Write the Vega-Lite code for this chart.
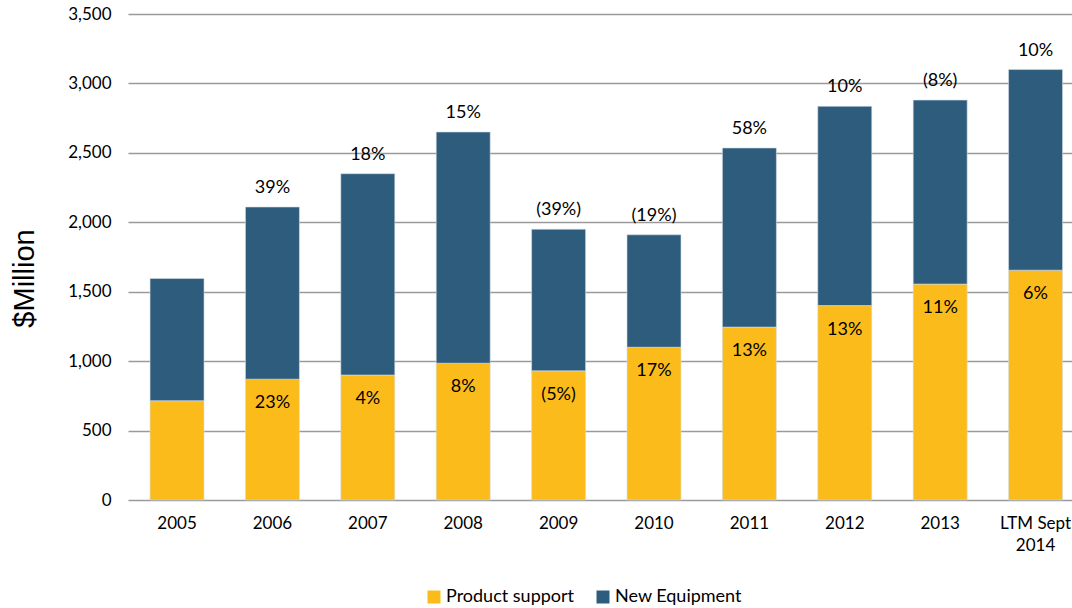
{
  "$schema": "https://vega.github.io/schema/vega-lite/v6.json",
  "width": 944,
  "height": 486,
  "autosize": {"type": "none"},
  "padding": {"left": 128, "top": 14, "right": 0, "bottom": 108},
  "background": "white",
  "config": {
    "view": {"stroke": null},
    "font": "Lato",
    "text": {"font": "Lato"}
  },
  "data": {
    "values": [
      {"year": "2005", "segment": "Product support", "order": 1, "value": 715, "label": ""},
      {"year": "2005", "segment": "New Equipment", "order": 2, "value": 880, "label": ""},
      {"year": "2006", "segment": "Product support", "order": 1, "value": 870, "label": "23%"},
      {"year": "2006", "segment": "New Equipment", "order": 2, "value": 1240, "label": "39%"},
      {"year": "2007", "segment": "Product support", "order": 1, "value": 900, "label": "4%"},
      {"year": "2007", "segment": "New Equipment", "order": 2, "value": 1450, "label": "18%"},
      {"year": "2008", "segment": "Product support", "order": 1, "value": 985, "label": "8%"},
      {"year": "2008", "segment": "New Equipment", "order": 2, "value": 1665, "label": "15%"},
      {"year": "2009", "segment": "Product support", "order": 1, "value": 930, "label": "(5%)"},
      {"year": "2009", "segment": "New Equipment", "order": 2, "value": 1020, "label": "(39%)"},
      {"year": "2010", "segment": "Product support", "order": 1, "value": 1100, "label": "17%"},
      {"year": "2010", "segment": "New Equipment", "order": 2, "value": 810, "label": "(19%)"},
      {"year": "2011", "segment": "Product support", "order": 1, "value": 1245, "label": "13%"},
      {"year": "2011", "segment": "New Equipment", "order": 2, "value": 1290, "label": "58%"},
      {"year": "2012", "segment": "Product support", "order": 1, "value": 1400, "label": "13%"},
      {"year": "2012", "segment": "New Equipment", "order": 2, "value": 1435, "label": "10%"},
      {"year": "2013", "segment": "Product support", "order": 1, "value": 1555, "label": "11%"},
      {"year": "2013", "segment": "New Equipment", "order": 2, "value": 1325, "label": "(8%)"},
      {"year": "LTM Sept 2014", "segment": "Product support", "order": 1, "value": 1655, "label": "6%"},
      {"year": "LTM Sept 2014", "segment": "New Equipment", "order": 2, "value": 1445, "label": "10%"}
    ]
  },
  "encoding": {
    "x": {
      "field": "year",
      "type": "nominal",
      "sort": null,
      "scale": {"paddingInner": 0.434, "paddingOuter": 0.165, "align": 0.7},
      "axis": {
        "title": null,
        "labelAngle": 0,
        "labelFontSize": 17,
        "labelColor": "#000000",
        "labelPadding": 15,
        "labelLineHeight": 22,
        "ticks": false,
        "domain": false,
        "labelExpr": "datum.label == 'LTM Sept 2014' ? ['LTM Sept', '2014'] : datum.label"
      }
    }
  },
  "layer": [
    {
      "mark": {"type": "bar", "stroke": "#d5dde4", "strokeWidth": 0.6},
      "encoding": {
        "y": {
          "field": "value",
          "type": "quantitative",
          "stack": "zero",
          "scale": {"domain": [0, 3500], "nice": false},
          "axis": {
            "title": "$Million",
            "titleFont": "Liberation Sans",
            "titleFontSize": 29,
            "titleFontWeight": "normal",
            "titleColor": "#000000",
            "titleY": 264,
            "titleX": -104,
            "titleAngle": -90,
            "titleBaseline": "middle",
            "titleAlign": "center",
            "values": [0, 500, 1000, 1500, 2000, 2500, 3000, 3500],
            "labelOverlap": false,
            "format": ",d",
            "labelFontSize": 17,
            "labelColor": "#000000",
            "labelPadding": 17,
            "ticks": false,
            "domain": false,
            "grid": true,
            "gridColor": "#9a9a9a",
            "gridWidth": 1.3
          }
        },
        "color": {
          "field": "segment",
          "type": "nominal",
          "scale": {"domain": ["Product support", "New Equipment"], "range": ["#FBBC1B", "#2E5C7C"]},
          "legend": {
            "title": null,
            "orient": "none",
            "direction": "horizontal",
            "legendX": 297,
            "legendY": 574,
            "symbolType": "square",
            "symbolSize": 169,
            "symbolStrokeWidth": 0,
            "labelFontSize": 18,
            "labelColor": "#000000",
            "columnPadding": 19,
            "labelOffset": 3
          }
        },
        "order": {"field": "order", "type": "quantitative"}
      }
    },
    {
      "transform": [{"filter": "datum.segment == 'Product support'"}],
      "mark": {"type": "text", "fontSize": 18, "baseline": "middle", "dy": 24, "color": "#000000"},
      "encoding": {
        "y": {"field": "value", "type": "quantitative"},
        "text": {"field": "label"}
      }
    },
    {
      "transform": [
        {"joinaggregate": [{"op": "sum", "field": "value", "as": "total"}], "groupby": ["year"]},
        {"filter": "datum.segment == 'New Equipment'"}
      ],
      "mark": {"type": "text", "fontSize": 18, "baseline": "middle", "dy": -19, "color": "#000000"},
      "encoding": {
        "y": {"field": "total", "type": "quantitative"},
        "text": {"field": "label"}
      }
    }
  ]
}
